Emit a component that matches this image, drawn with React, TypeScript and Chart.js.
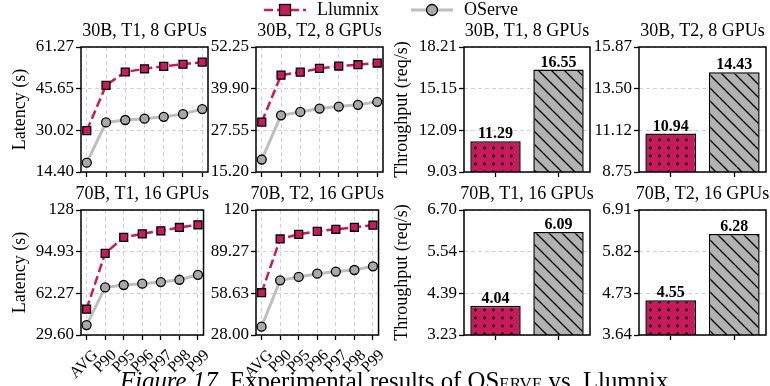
import React, { useEffect, useRef } from 'react';
import { Chart, registerables } from 'chart.js';

Chart.register(...registerables);

const FONT = "'Liberation Serif', 'Times New Roman', Times, serif";

// ---------------- data ----------------
const percentiles = ['AVG', 'P90', 'P95', 'P96', 'P97', 'P98', 'P99'];
const systems = ['Llumnix', 'OServe'];
const panelTitles = ['30B, T1, 8 GPUs', '30B, T2, 8 GPUs', '70B, T1, 16 GPUs', '70B, T2, 16 GPUs'];

const llumnixLatency30bT1 = [29.9, 46.9, 51.9, 53.1, 54.0, 54.8, 55.6];
const oserveLatency30bT1 = [17.9, 33.0, 33.9, 34.4, 35.1, 36.1, 38.0];
const llumnixLatency30bT2 = [30.0, 43.9, 44.8, 45.9, 46.6, 47.0, 47.5];
const oserveLatency30bT2 = [18.9, 32.0, 33.0, 34.0, 34.6, 35.1, 36.0];
const llumnixLatency70bT1 = [49.8, 93.6, 106.1, 108.9, 111.3, 113.9, 116.0];
const oserveLatency70bT1 = [37.4, 66.9, 68.8, 69.8, 71.1, 72.9, 76.8];
const llumnixLatency70bT2 = [59.1, 98.6, 102.0, 104.2, 105.7, 107.2, 108.7];
const oserveLatency70bT2 = [34.1, 68.2, 70.7, 73.1, 74.6, 75.8, 78.5];

const latencyTicks30bT1 = [14.4, 30.02, 45.65, 61.27];
const latencyTickLabels30bT1 = ['14.40', '30.02', '45.65', '61.27'];
const latencyTicks30bT2 = [15.2, 27.55, 39.9, 52.25];
const latencyTickLabels30bT2 = ['15.20', '27.55', '39.90', '52.25'];
const latencyTicks70bT1 = [29.6, 62.27, 94.93, 127.6];
const latencyTickLabels70bT1 = ['29.60', '62.27', '94.93', '128'];
const latencyTicks70bT2 = [28.0, 58.63, 89.27, 119.9];
const latencyTickLabels70bT2 = ['28.00', '58.63', '89.27', '120'];

const throughputLlumnix = [11.29, 10.94, 4.04, 4.55];
const throughputOServe = [16.55, 14.43, 6.09, 6.28];

const throughputTicks30bT1 = [9.03, 12.09, 15.15, 18.21];
const throughputTickLabels30bT1 = ['9.03', '12.09', '15.15', '18.21'];
const throughputTicks30bT2 = [8.75, 11.12, 13.5, 15.87];
const throughputTickLabels30bT2 = ['8.75', '11.12', '13.50', '15.87'];
const throughputTicks70bT1 = [3.23, 4.39, 5.54, 6.7];
const throughputTickLabels70bT1 = ['3.23', '4.39', '5.54', '6.70'];
const throughputTicks70bT2 = [3.64, 4.73, 5.82, 6.91];
const throughputTickLabels70bT2 = ['3.64', '4.73', '5.82', '6.91'];

// ---------------- style ----------------
const RED = '#C81A5C';
const GRAY_LINE = '#BEBEBE';
const GRAY_MARK = '#A8A8A8';
const GRAY_BAR = '#B2B2B2';
const GRID = '#D2D2D2';

const COLS = [
  { canvasLeft: 0, yw: 81, plotW: 127, padR: 10, yTitle: 'Latency (s)', yTitlePad: 9 },
  { canvasLeft: 200, yw: 56, plotW: 127, padR: 10, yTitle: '', yTitlePad: 0 },
  { canvasLeft: 390, yw: 74, plotW: 126, padR: 4, yTitle: 'Throughput (req/s)', yTitlePad: 1.2 },
  { canvasLeft: 583, yw: 56, plotW: 127, padR: 4, yTitle: '', yTitlePad: 0 },
];
const ROWS = [
  { canvasTop: 0, padT: 47, plotH: 125 },
  { canvasTop: 178, padT: 32, plotH: 125 },
];

function dotPattern(): CanvasPattern | string {
  const c = document.createElement('canvas');
  c.width = 9; c.height = 8;
  const g = c.getContext('2d');
  if (!g) return RED;
  g.fillStyle = RED; g.fillRect(0, 0, 9, 8);
  g.fillStyle = '#000';
  g.beginPath(); g.arc(4.5, 4, 1.45, 0, Math.PI * 2); g.fill();
  return g.createPattern(c, 'repeat') || RED;
}

function hatchPattern(): CanvasPattern | string {
  const s = 13;
  const c = document.createElement('canvas');
  c.width = s; c.height = s;
  const g = c.getContext('2d');
  if (!g) return GRAY_BAR;
  g.fillStyle = GRAY_BAR; g.fillRect(0, 0, s, s);
  g.strokeStyle = '#000'; g.lineWidth = 1.3;
  g.beginPath();
  g.moveTo(-1, -1); g.lineTo(s + 1, s + 1);
  g.moveTo(-1, s - 1); g.lineTo(1, s + 1);
  g.moveTo(s - 1, -1); g.lineTo(s + 1, 1);
  g.stroke();
  return g.createPattern(c, 'repeat') || GRAY_BAR;
}

function framePlugin(title: string) {
  return {
    id: 'frameAndTitle',
    afterDatasetsDraw(chart: any) {
      const { ctx, chartArea: a } = chart;
      ctx.save();
      ctx.strokeStyle = '#000';
      ctx.lineWidth = 1.5;
      ctx.setLineDash([]);
      ctx.strokeRect(a.left, a.top, a.right - a.left, a.bottom - a.top);
      ctx.restore();
    },
    afterDraw(chart: any) {
      const { ctx, chartArea: a } = chart;
      ctx.save();
      ctx.font = `18px ${FONT}`;
      ctx.fillStyle = '#000';
      ctx.textAlign = 'center';
      ctx.textBaseline = 'middle';
      ctx.fillText(title, (a.left + a.right) / 2, a.top - 16);
      ctx.restore();
    },
  };
}

const barValuePlugin = {
  id: 'barValues',
  afterDatasetsDraw(chart: any) {
    const { ctx } = chart;
    const meta = chart.getDatasetMeta(0);
    const data = chart.data.datasets[0].data;
    ctx.save();
    ctx.font = `bold 16px ${FONT}`;
    ctx.fillStyle = '#000';
    ctx.textAlign = 'center';
    ctx.textBaseline = 'alphabetic';
    meta.data.forEach((el: any, i: number) => {
      ctx.fillText(Number(data[i]).toFixed(2), el.x, el.y - 3);
    });
    ctx.restore();
  },
};

function yScale(tickVals: number[], tickLabels: string[], col: any) {
  return {
    type: 'linear',
    position: 'left',
    min: tickVals[0],
    max: tickVals[tickVals.length - 1],
    afterBuildTicks: (s: any) => { s.ticks = tickVals.map((v) => ({ value: v })); },
    afterFit: (s: any) => { s.width = col.yw; },
    ticks: {
      callback: (_v: any, i: number) => tickLabels[i],
      font: { family: FONT, size: 17 },
      color: '#000',
      padding: 2,
      autoSkip: false,
    },
    grid: { color: GRID, lineWidth: 1, tickColor: '#000', tickWidth: 1.3, tickLength: 5, drawTicks: true },
    border: { display: false, dash: [4, 3] },
    title: col.yTitle
      ? { display: true, text: col.yTitle, font: { family: FONT, size: 18 }, color: '#000', padding: { top: col.yTitlePad, bottom: 0 } }
      : { display: false },
  };
}

function lineConfig(title: string, llumnix: number[], oserve: number[], tickVals: number[], tickLabels: string[], col: any, row: number) {
  const xh = row === 0 ? 16 : 56;
  return {
    type: 'line',
    data: {
      datasets: [
        {
          label: systems[0],
          data: llumnix.map((v, i) => ({ x: i, y: v })),
          borderColor: RED, borderWidth: 2.5, borderDash: [9, 4],
          pointStyle: 'rect', pointRadius: 5.6, pointBackgroundColor: RED,
          pointBorderColor: '#000', pointBorderWidth: 1.3, tension: 0,
        },
        {
          label: systems[1],
          data: oserve.map((v, i) => ({ x: i, y: v })),
          borderColor: GRAY_LINE, borderWidth: 3,
          pointStyle: 'circle', pointRadius: 4.5, pointBackgroundColor: GRAY_MARK,
          pointBorderColor: '#000', pointBorderWidth: 1.3, tension: 0,
        },
      ],
    },
    options: {
      responsive: false, maintainAspectRatio: false, animation: false, devicePixelRatio: 1,
      layout: { autoPadding: false, padding: { left: 0, top: ROWS[row].padT, right: col.padR, bottom: 0 } },
      plugins: { legend: { display: false }, tooltip: { enabled: false }, title: { display: false } },
      scales: {
        x: {
          type: 'linear', position: 'bottom', min: -0.3, max: percentiles.length - 1 + 0.3,
          afterBuildTicks: (s: any) => { s.ticks = percentiles.map((_p, i) => ({ value: i })); },
          afterFit: (s: any) => { s.height = xh; },
          ticks: {
            display: row === 1,
            callback: (_v: any, i: number) => percentiles[i],
            minRotation: 45, maxRotation: 45, autoSkip: false,
            font: { family: FONT, size: 16 }, color: '#000', padding: 6, labelOffset: 9,
          },
          grid: { color: GRID, lineWidth: 1, tickColor: '#000', tickWidth: 1.3, tickLength: 5, drawTicks: true },
          border: { display: false, dash: [4, 3] },
        },
        y: yScale(tickVals, tickLabels, col),
      },
    },
    plugins: [framePlugin(title)],
  };
}

function barConfig(title: string, values: number[], tickVals: number[], tickLabels: string[], col: any, row: number) {
  return {
    type: 'bar',
    data: {
      labels: systems,
      datasets: [
        {
          label: 'Throughput',
          data: values,
          backgroundColor: [dotPattern(), hatchPattern()],
          borderColor: '#000', borderWidth: 1.5, borderSkipped: false,
          barPercentage: 0.8, categoryPercentage: 1.0,
        },
      ],
    },
    options: {
      responsive: false, maintainAspectRatio: false, animation: false, devicePixelRatio: 1,
      layout: { autoPadding: false, padding: { left: 0, top: ROWS[row].padT, right: col.padR, bottom: 0 } },
      plugins: { legend: { display: false }, tooltip: { enabled: false }, title: { display: false } },
      scales: {
        x: {
          type: 'category', position: 'bottom', offset: true,
          afterFit: (s: any) => { s.height = 16; },
          ticks: { display: false },
          grid: { offset: false, drawOnChartArea: false, drawTicks: true, tickLength: 5, tickColor: '#000', tickWidth: 1.3 },
          border: { display: false },
        },
        y: yScale(tickVals, tickLabels, col),
      },
    },
    plugins: [framePlugin(title), barValuePlugin],
  };
}

function ChartBox({ left, top, width, height, build }: { left: number; top: number; width: number; height: number; build: () => any }) {
  const ref = useRef<HTMLCanvasElement>(null);
  useEffect(() => {
    if (!ref.current) return;
    const chart = new Chart(ref.current, build());
    return () => chart.destroy();
  }, []);
  return (
    <canvas
      ref={ref}
      width={width}
      height={height}
      style={{ position: 'absolute', left, top, width, height }}
    />
  );
}

export default function App() {
  const latency = [
    { l: llumnixLatency30bT1, o: oserveLatency30bT1, t: latencyTicks30bT1, tl: latencyTickLabels30bT1, col: 0, row: 0, title: panelTitles[0] },
    { l: llumnixLatency30bT2, o: oserveLatency30bT2, t: latencyTicks30bT2, tl: latencyTickLabels30bT2, col: 1, row: 0, title: panelTitles[1] },
    { l: llumnixLatency70bT1, o: oserveLatency70bT1, t: latencyTicks70bT1, tl: latencyTickLabels70bT1, col: 0, row: 1, title: panelTitles[2] },
    { l: llumnixLatency70bT2, o: oserveLatency70bT2, t: latencyTicks70bT2, tl: latencyTickLabels70bT2, col: 1, row: 1, title: panelTitles[3] },
  ];
  const throughputTicks = [throughputTicks30bT1, throughputTicks30bT2, throughputTicks70bT1, throughputTicks70bT2];
  const throughputTickLabels = [throughputTickLabels30bT1, throughputTickLabels30bT2, throughputTickLabels70bT1, throughputTickLabels70bT2];
  const throughput = [0, 1, 2, 3].map((i) => ({
    v: [throughputLlumnix[i], throughputOServe[i]],
    t: throughputTicks[i], tl: throughputTickLabels[i],
    col: 2 + (i % 2), row: Math.floor(i / 2), title: panelTitles[i],
  }));

  return (
    <div style={{ position: 'fixed', left: 0, top: 0, width: 770, height: 386, overflow: 'hidden', background: '#fff', fontFamily: FONT, color: '#000' }}>
      {latency.map((p, i) => {
        const c = COLS[p.col];
        const r = ROWS[p.row];
        const xh = p.row === 0 ? 16 : 56;
        return (
          <ChartBox
            key={'lat' + i}
            left={c.canvasLeft}
            top={r.canvasTop}
            width={c.yw + c.plotW + c.padR}
            height={r.padT + r.plotH + xh}
            build={() => lineConfig(p.title, p.l, p.o, p.t, p.tl, c, p.row)}
          />
        );
      })}
      {throughput.map((p, i) => {
        const c = COLS[p.col];
        const r = ROWS[p.row];
        return (
          <ChartBox
            key={'thr' + i}
            left={c.canvasLeft}
            top={r.canvasTop}
            width={c.yw + c.plotW + c.padR}
            height={r.padT + r.plotH + 16}
            build={() => barConfig(p.title, p.v, p.t, p.tl, c, p.row)}
          />
        );
      })}
      {/* legend */}
      <svg style={{ position: 'absolute', left: 264, top: 0 }} width={42} height={20}>
        <line x1={0} y1={10} x2={42} y2={10} stroke={RED} strokeWidth={2.5} strokeDasharray="9 4" />
        <rect x={15.5} y={4.5} width={11} height={11} fill={RED} stroke="#000" strokeWidth={1.3} />
      </svg>
      <div style={{ position: 'absolute', left: 317, top: -1, fontSize: 18, lineHeight: '20px', whiteSpace: 'nowrap' }}>{systems[0]}</div>
      <svg style={{ position: 'absolute', left: 411, top: 0 }} width={42} height={20}>
        <line x1={0} y1={10} x2={42} y2={10} stroke={GRAY_LINE} strokeWidth={3} />
        <circle cx={21} cy={10} r={5.5} fill={GRAY_MARK} stroke="#000" strokeWidth={1.3} />
      </svg>
      <div style={{ position: 'absolute', left: 464, top: -1, fontSize: 18, lineHeight: '20px', whiteSpace: 'nowrap' }}>{systems[1]}</div>
      {/* caption */}
      <div style={{ position: 'absolute', left: 120, top: 368, fontSize: 24.8, lineHeight: '25px', whiteSpace: 'nowrap' }}>
        <i>Figure 17.</i> Experimental results of O<span style={{ fontVariant: 'small-caps' }}>Serve</span> vs. Llumnix
      </div>
    </div>
  );
}
